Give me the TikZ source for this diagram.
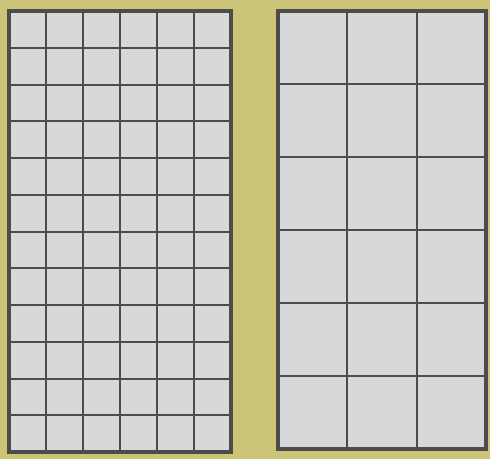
\documentclass[tikz,border=0pt]{standalone}
\usepackage{xcolor}
\usetikzlibrary{positioning}
\definecolor{board}{RGB}{204,197,120}
\definecolor{cell}{RGB}{214,216,218}
\definecolor{rule}{RGB}{78,76,74}

\begin{document}
\begin{tikzpicture}[x=1pt,y=-1pt,
  frame/.style={draw=rule,line width=4pt},
  paper/.style={fill=cell},
  gridline/.style={draw=rule,line width=2pt}
]
\fill[board] (0,0) rectangle (490,459);
\useasboundingbox (0,0) rectangle (490,459);

% left sheet, 6 x 12
\fill[paper] (9,11) rectangle (231,452);
\foreach \i in {1,...,5}
  \draw[gridline] ({9+\i*37},11) -- ({9+\i*37},452);
\foreach \j in {1,...,11}
  \draw[gridline] (9,{11+\j*36.75}) -- (231,{11+\j*36.75});
\draw[frame] (9,11) rectangle (231,452);

% right sheet, 3 x 6
\fill[paper] (278,11) rectangle (486,449);
\foreach \i in {1,2}
  \draw[gridline] ({278+\i*69.33},11) -- ({278+\i*69.33},449);
\foreach \j in {1,...,5}
  \draw[gridline] (278,{11+\j*73}) -- (486,{11+\j*73});
\draw[frame] (278,11) rectangle (486,449);
\end{tikzpicture}
\end{document}
